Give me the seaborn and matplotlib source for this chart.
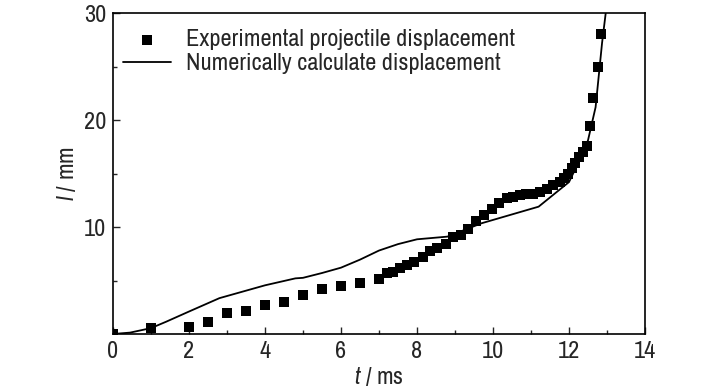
import matplotlib
matplotlib.use("Agg")
import matplotlib.pyplot as plt
from matplotlib import font_manager
import seaborn as sns
import pandas as pd
from matplotlib.ticker import MultipleLocator, FixedLocator

# Experimental data (t in ms, l in mm)
exp_t = [0.0, 1.0, 2.0, 2.5, 3.0, 3.5, 4.0, 4.5, 5.0, 5.5, 6.0, 6.5, 7.0,
         7.2, 7.38, 7.55, 7.73, 7.93, 8.15, 8.34, 8.52, 8.75, 8.96, 9.15,
         9.35, 9.55, 9.76, 9.97, 10.16, 10.36, 10.53, 10.71, 10.88, 11.06,
         11.24, 11.41, 11.59, 11.76, 11.88, 11.97, 12.07, 12.16, 12.26,
         12.36, 12.47, 12.55, 12.64, 12.75, 12.83]
exp_l = [0.0, 0.53, 0.68, 1.15, 1.93, 2.15, 2.74, 2.99, 3.67, 4.24, 4.45, 4.77, 5.14,
         5.67, 5.82, 6.14, 6.45, 6.70, 7.23, 7.79, 8.0, 8.38, 9.04, 9.25,
         9.81, 10.59, 11.12, 11.68, 12.21, 12.68, 12.83, 12.99, 13.05, 13.06,
         13.24, 13.52, 13.93, 14.23, 14.6, 15.0, 15.5, 15.95, 16.57,
         17.04, 17.57, 19.4, 22.1, 24.98, 28.0]

# Numerical calculation
num_t = [0.0, 0.45, 1.0, 1.4, 2.0, 2.8, 3.4, 4.0, 4.8, 5.0, 5.5, 6.0, 6.5, 7.0,
         7.5, 8.0, 8.8, 9.7, 11.2, 12.0, 12.3, 12.5, 12.7, 12.87, 12.97]
num_l = [0.0, 0.13, 0.55, 1.15, 2.1, 3.35, 3.95, 4.55, 5.2, 5.25, 5.7, 6.2, 6.95, 7.8,
         8.4, 8.85, 9.1, 10.35, 11.9, 14.2, 16.4, 18.1, 21.2, 27.2, 30.1]

x_ticks = [0, 2, 4, 6, 8, 10, 12, 14]
y_ticks = [10, 20, 30]

sns.set_theme(style="ticks")

names = sorted({f.name for f in font_manager.fontManager.ttflist})
narrow = [n for n in names if "Narrow" in n or "Condensed" in n]
base = narrow[0] if narrow else "Liberation Sans"
fam = [base, "Liberation Sans", "DejaVu Sans"]
plt.rcParams["font.family"] = fam
plt.rcParams["mathtext.fontset"] = "custom"
plt.rcParams["mathtext.it"] = base + ":italic"
plt.rcParams["mathtext.rm"] = base

df_exp = pd.DataFrame({"t": exp_t, "l": exp_l})
df_num = pd.DataFrame({"t": num_t, "l": num_l})

fig = plt.figure(figsize=(7.28, 3.9), dpi=100)
ax = fig.add_axes([113/728, 56/390, 532/728, 321/390])

sns.scatterplot(data=df_exp, x="t", y="l", ax=ax, marker="s", s=42, color="black",
                edgecolor="black", linewidth=0, label="Experimental projectile displacement",
                zorder=3)
sns.lineplot(data=df_num, x="t", y="l", ax=ax, color="black", linewidth=1.3,
             label="Numerically calculate displacement", sort=False, estimator=None)

ax.set_xlim(0, 14)
ax.set_ylim(0, 30)
ax.xaxis.set_major_locator(FixedLocator(x_ticks))
ax.xaxis.set_minor_locator(MultipleLocator(1))
ax.yaxis.set_major_locator(FixedLocator(y_ticks))
ax.yaxis.set_minor_locator(FixedLocator([5, 15, 25]))
fs = 17.5 if narrow else 15
ax.tick_params(which="both", direction="in", top=False, right=False, labelsize=fs, pad=5)
ax.tick_params(which="major", length=5, width=1)
ax.tick_params(which="minor", length=3, width=1)
for s in ax.spines.values():
    s.set_visible(True)
    s.set_linewidth(1.2)
    s.set_color("black")

ax.set_xlabel(r"$\mathit{t}$ / ms", fontsize=fs, labelpad=2)
ax.set_ylabel(r"$\mathit{l}$ / mm", fontsize=fs, labelpad=4)

leg = ax.legend(loc="upper left", frameon=False, fontsize=fs, handlelength=2.0,
                handletextpad=0.6, borderaxespad=0.0, labelspacing=0.12,
                bbox_to_anchor=(0.0, 0.98))
for h in leg.legend_handles:
    try:
        h.set_sizes([42])
    except Exception:
        pass

fig.savefig("out.png", dpi=100)
